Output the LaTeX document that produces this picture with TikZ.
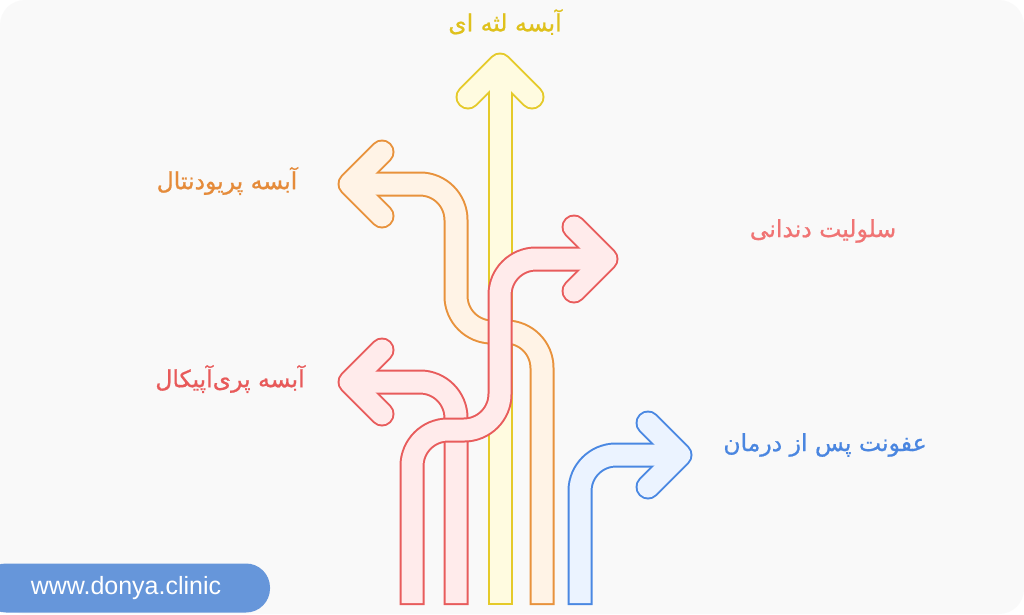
\documentclass[tikz,border=0pt]{standalone}
\usepackage{fontspec}
\newfontfamily\farsi[Script=Arabic, FakeBold=0.8]{DejaVu Sans}
\newfontfamily\latin{Liberation Sans}
\TeXXeTstate=1
\usetikzlibrary{calc}

\definecolor{bgGray}{HTML}{F9F9F9}
\definecolor{gumLine}{HTML}{E5CA2A}
\definecolor{gumFill}{HTML}{FFFBE0}
\definecolor{gumText}{HTML}{DFC11C}
\definecolor{perioLine}{HTML}{E8923C}
\definecolor{perioFill}{HTML}{FFF3E6}
\definecolor{perioText}{HTML}{E58B3A}
\definecolor{cellLine}{HTML}{E85C5C}
\definecolor{cellFill}{HTML}{FFEBEB}
\definecolor{cellText}{HTML}{F07474}
\definecolor{apexText}{HTML}{E85A5A}
\definecolor{postLine}{HTML}{4A88E2}
\definecolor{postFill}{HTML}{EBF3FF}
\definecolor{postText}{HTML}{4A86E0}
\definecolor{pillBlue}{HTML}{6696DA}

\tikzset{
  rim/.style={draw=#1, line width=25pt, rounded corners=36pt},
  core/.style={draw=#1, line width=21pt, rounded corners=36pt},
  head/.style={sharp corners, line cap=round, line join=round},
  arrowtext/.style={font=\farsi\fontsize{23.5}{26}\selectfont, text=#1, inner sep=0pt},
  pill/.style={fill=pillBlue, rounded corners=24pt, minimum width=288pt, minimum height=49pt,
    text=white, font=\latin\fontsize{25}{28}\selectfont},
}

\begin{document}
\begin{tikzpicture}[x=1pt, y=-1pt]
  \useasboundingbox (0,0) rectangle (1024,614);
  \fill[white] (0,0) rectangle (1024,614);
  \fill[bgGray, rounded corners=25pt] (0,0) rectangle (1024,614);

  \coordinate (gumStart) at (500,605);
  \coordinate (gumTip) at (500,65);
  \coordinate (perioStart) at (542,605);
  \coordinate (perioTip) at (350,184);
  \coordinate (apexStart) at (456,605);
  \coordinate (apexTip) at (350,382);
  \coordinate (postStart) at (580,605);
  \coordinate (postTip) at (680,455);
  \coordinate (cellStart) at (412,605);
  \coordinate (cellTip) at (606,259);

  % gingival abscess, straight up
  \draw[rim=gumLine] (gumStart) -- (gumTip);
  \draw[rim=gumLine, head] (gumTip) ++(-32,32) -- (gumTip) -- +(32,32);
  \draw[core=gumFill, shorten <=2pt] (gumStart) -- (gumTip);
  \draw[core=gumFill, head] (gumTip) ++(-32,32) -- (gumTip) -- +(32,32);

  % periodontal abscess
  \draw[rim=perioLine] (perioStart) -- (542,332) -- (456,332) -- (456,184) -- (perioTip);
  \draw[rim=perioLine, head] (perioTip) ++(32,-32) -- (perioTip) -- +(32,32);
  \draw[core=perioFill, shorten <=2pt] (perioStart) -- (542,332) -- (456,332) -- (456,184) -- (perioTip);
  \draw[core=perioFill, head] (perioTip) ++(32,-32) -- (perioTip) -- +(32,32);

  % periapical abscess
  \draw[rim=cellLine] (apexStart) -- (456,382) -- (apexTip);
  \draw[rim=cellLine, head] (apexTip) ++(32,-32) -- (apexTip) -- +(32,32);
  \draw[core=cellFill, shorten <=2pt] (apexStart) -- (456,382) -- (apexTip);
  \draw[core=cellFill, head] (apexTip) ++(32,-32) -- (apexTip) -- +(32,32);

  % post-treatment infection
  \draw[rim=postLine] (postStart) -- (580,455) -- (postTip);
  \draw[rim=postLine, head] (postTip) ++(-32,-32) -- (postTip) -- +(-32,32);
  \draw[core=postFill, shorten <=2pt] (postStart) -- (580,455) -- (postTip);
  \draw[core=postFill, head] (postTip) ++(-32,-32) -- (postTip) -- +(-32,32);

  % cellulitis, on top
  \draw[rim=cellLine] (cellStart) -- (412,430) -- (500,430) -- (500,259) -- (cellTip);
  \draw[rim=cellLine, head] (cellTip) ++(-32,-32) -- (cellTip) -- +(-32,32);
  \draw[core=cellFill, shorten <=2pt] (cellStart) -- (412,430) -- (500,430) -- (500,259) -- (cellTip);
  \draw[core=cellFill, head] (cellTip) ++(-32,-32) -- (cellTip) -- +(-32,32);

  \node[arrowtext=gumText] (gumLabel) at (505,22) {\beginR آبسه لثه ای\endR};
  \node[arrowtext=perioText] (perioLabel) at (227,181) {\beginR آبسه پریودنتال\endR};
  \node[arrowtext=cellText] (cellLabel) at (823,231) {\beginR سلولیت دندانی\endR};
  \node[arrowtext=apexText] (apexLabel) at (230,379) {\beginR آبسه پری‌آپیکال\endR};
  \node[arrowtext=postText] (postLabel) at (825,445) {\beginR عفونت پس از درمان\endR};

  \node[pill] (site) at (126,588) {www.donya.clinic};
\end{tikzpicture}
\end{document}
